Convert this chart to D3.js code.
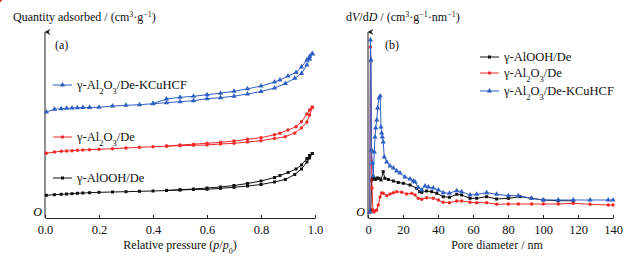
<!DOCTYPE html>
<html>
<head>
<meta charset="utf-8">
<script src="https://cdn.jsdelivr.net/npm/d3@7"></script>
<style>
  body { margin: 0; background: #fff; }
  svg text { font-family: "Liberation Serif", "Times New Roman", "DejaVu Serif", serif; }
</style>
</head>
<body>
<svg id="graf" width="633" height="260"></svg>
<script>
// isotherm (a): relative pressure points
const pAds = [0.005, 0.035, 0.06, 0.08, 0.1, 0.12, 0.14, 0.165, 0.2, 0.25, 0.3, 0.35, 0.4, 0.45, 0.5, 0.55, 0.6, 0.65, 0.7, 0.75, 0.8, 0.85, 0.89, 0.925, 0.95, 0.97, 0.98, 0.99];
const pDes = [0.99, 0.98, 0.97, 0.95, 0.93, 0.9, 0.87, 0.85, 0.8, 0.75, 0.7, 0.65, 0.6, 0.55, 0.5, 0.45, 0.4];

const kcuAds = [106, 108.7, 109.3, 109.7, 110, 110.2, 110.4, 110.6, 110.7, 112, 112.7, 113.3, 114.3, 115.3, 116.3, 117.3, 119.3, 120.3, 121.8, 124, 126.5, 130, 134.5, 139.7, 144.5, 153, 159, 164];
const kcuDes = [164.5, 161.5, 158, 151, 145.5, 142, 138, 136, 132, 129.2, 126.7, 124.8, 123.3, 121.7, 120.7, 119, 114.5];
const alAds = [64.7, 66, 66.7, 67, 67.3, 67.7, 68, 68.3, 68.7, 69.3, 70, 70.7, 71.3, 71.8, 72.3, 72.7, 73, 74, 74.7, 76, 77.3, 79.5, 81.3, 85, 90, 96, 103, 110.5];
const alDes = [111, 108, 104, 96.3, 91.3, 88, 84.7, 83.3, 80.3, 78.7, 77, 75.7, 74.7, 73.8, 73, 72];
const booAds = [22.7, 23.3, 23.7, 24, 24.3, 24.7, 25, 25.3, 25.7, 26, 26.3, 26.7, 27, 27.5, 28, 28.5, 28.7, 29.7, 30.7, 32, 33.5, 36, 38.5, 43.5, 49, 56, 60, 64.5];
const booDes = [64.5, 62.5, 59.5, 53, 49, 45.5, 42.5, 40.5, 37, 34.5, 32.5, 31, 30, 29, 28.3, 27.6];

// pore size distribution (b): [diameter nm, dV/dD]
const boohPore = [[1.0, 6], [1.6, 8], [2.1, 38], [2.6, 40], [3.1, 39.7], [3.8, 39], [4.5, 38.7], [5.3, 40], [6.3, 39.7], [7.4, 38], [8.7, 46.3], [9.6, 39.7], [11.6, 38.5], [14.5, 37], [17.3, 35.5], [20.2, 34.7], [24, 33], [27.8, 29.7], [29.5, 26.3], [30.7, 25.7], [33.5, 27], [36.4, 26.3], [39.3, 24.7], [43, 21.3], [46.5, 20.7], [50.7, 23.7], [53.5, 23], [58.3, 19.7], [62.1, 19.7], [67.8, 21.3], [73.5, 19], [80.2, 19.7], [86.9, 21.3], [93.5, 19.7], [100.2, 18], [108.7, 17.3], [117.3, 17.3]];
const alPore = [[1.0, 6], [1.4, 171], [1.6, 157], [1.9, 67], [2.3, 30], [2.8, 8], [3.3, 6], [4.0, 7], [5.0, 8], [5.9, 13], [6.9, 21], [7.8, 25], [8.7, 24.7], [10.7, 22.3], [12.6, 24], [14.5, 25.3], [16.4, 26.3], [19.3, 25.7], [22.1, 24], [25, 24.7], [26.9, 23], [28.7, 19.7], [30.7, 18.7], [33.5, 20.3], [37.3, 19.7], [40.2, 18], [43, 15.7], [46.5, 15.3], [50.7, 17], [53.5, 17], [58.3, 15.7], [62.1, 15.3], [67.8, 15.3], [73.5, 13.7], [80.2, 14], [85.9, 14], [93.5, 14], [100.2, 14], [108.7, 14], [117.3, 14.7], [126.9, 13.7], [137.3, 13], [140, 13]];
const kcuPore = [[1.0, 6], [1.4, 178], [1.7, 158], [2.0, 68], [2.5, 55], [3.0, 42], [3.6, 66], [4.0, 81], [4.4, 90], [5.0, 98], [5.5, 110], [6.3, 120], [7.0, 122], [7.4, 91], [7.8, 85], [8.2, 81], [8.7, 76], [9.3, 61], [10.7, 56], [12.6, 52], [14.5, 50], [16.4, 47], [18.3, 45], [21.1, 41], [24, 39], [25.9, 37], [26.9, 36], [28.7, 30.5], [30.7, 28], [32.6, 32], [34.5, 31], [37.3, 30], [40.2, 28], [43, 25.3], [46.5, 24.7], [50.7, 27.3], [53.5, 26.3], [58.3, 23], [62.1, 23.7], [67.8, 25.3], [73.5, 23.7], [80.2, 22.3], [85.9, 22.3], [93.5, 19.7], [100.2, 18], [108.7, 18], [117.3, 18], [126.9, 18], [137.3, 18], [140, 18]];

const pTicks = [0, 0.2, 0.4, 0.6, 0.8, 1.0];
const dTicks = [0, 20, 40, 60, 80, 100, 120, 140];

const FONT = "Liberation Serif, Times New Roman, DejaVu Serif, serif";
const boja = { booh: "#111111", al: "#f02828", kcu: "#2f5fc4" };
const simboli = { booh: d3.symbolSquare, al: d3.symbolCircle, kcu: d3.symbolTriangle };
const velicine = { booh: 9, al: 9, kcu: 12 };

const svg = d3.select("#graf").attr("font-family", FONT);

svg.append("defs").append("marker")
  .attr("id", "strelica")
  .attr("viewBox", "0 0 10 10")
  .attr("refX", 5).attr("refY", 1)
  .attr("markerWidth", 6).attr("markerHeight", 8)
  .attr("markerUnits", "userSpaceOnUse")
  .attr("orient", "auto-start-reverse")
  .append("path").attr("d", "M0,10 L5,0 L10,10 L5,7 Z").attr("fill", "#222");

const yScale = d3.scaleLinear().domain([0, 186]).range([218, 32]);
const xA = d3.scaleLinear().domain([0, 1]).range([45, 315]);
const xB = d3.scaleLinear().domain([0, 140]).range([368, 613]);

// axes
const crtajOs = (x, ticks, fmt) => {
  const g = svg.append("g")
    .attr("transform", `translate(0, ${yScale(0)})`)
    .call(d3.axisBottom(x).tickValues(ticks).tickFormat(fmt).tickSizeInner(-3).tickSizeOuter(0).tickPadding(7));
  g.attr("font-family", FONT);
  g.select(".domain").attr("stroke", "#222");
  g.selectAll(".tick line").attr("stroke", "#222");
  g.selectAll(".tick text").attr("font-family", FONT).attr("font-size", 12.5).attr("fill", "#111");
  svg.append("line")
    .attr("x1", x(0)).attr("x2", x(0))
    .attr("y1", yScale(0)).attr("y2", yScale(186))
    .attr("stroke", "#222").attr("stroke-width", 1)
    .attr("marker-end", "url(#strelica)");
  svg.append("text")
    .attr("x", x(0) - 3).attr("y", yScale(0) - 2)
    .attr("text-anchor", "end").attr("font-style", "italic").attr("font-size", 12)
    .text("O");
};
crtajOs(xA, pTicks, d3.format(".1f"));
crtajOs(xB, dTicks, d3.format("d"));

const crtajSeriju = (x, tocke, kljuc) => {
  const line = d3.line().x(d => x(d[0])).y(d => yScale(d[1]));
  svg.append("path")
    .datum(tocke)
    .attr("fill", "none")
    .attr("stroke", boja[kljuc])
    .attr("stroke-width", 1)
    .attr("d", line);
  svg.append("g").selectAll("path")
    .data(tocke)
    .enter()
    .append("path")
    .attr("transform", d => `translate(${x(d[0])}, ${yScale(d[1])})`)
    .attr("d", d3.symbol().type(simboli[kljuc]).size(velicine[kljuc]))
    .attr("fill", boja[kljuc]);
};

const spoji = (p, v) => p.map((pp, i) => [pp, v[i]]);

crtajSeriju(xA, spoji(pAds, booAds), "booh");
crtajSeriju(xA, spoji(pDes, booDes), "booh");
crtajSeriju(xA, spoji(pAds, alAds), "al");
crtajSeriju(xA, spoji(pDes, alDes), "al");
crtajSeriju(xA, spoji(pAds, kcuAds), "kcu");
crtajSeriju(xA, spoji(pDes, kcuDes), "kcu");

crtajSeriju(xB, boohPore, "booh");
crtajSeriju(xB, alPore, "al");
crtajSeriju(xB, kcuPore, "kcu");

// labels
const naslov = (x, y, dijelovi, anchor) => {
  const t = svg.append("text").attr("x", x).attr("y", y).attr("font-size", 12).attr("fill", "#111")
    .attr("font-family", FONT)
    .attr("text-anchor", anchor || "start");
  dijelovi.forEach(d => {
    const s = t.append("tspan").text(d.t);
    if (d.i) s.attr("font-style", "italic");
    if (d.sup) s.attr("baseline-shift", "super").attr("font-size", 8);
    if (d.sub) s.attr("baseline-shift", "sub").attr("font-size", 8);
  });
};

naslov(13, 21, [{ t: "Quantity adsorbed / (cm" }, { t: "3", sup: 1 }, { t: "\u00b7g" }, { t: "\u22121", sup: 1 }, { t: ")" }]);
naslov(346, 21, [{ t: "d" }, { t: "V", i: 1 }, { t: "/d" }, { t: "D", i: 1 }, { t: " / (cm" }, { t: "3", sup: 1 }, { t: "\u00b7g" }, { t: "\u22121", sup: 1 }, { t: "\u00b7nm" }, { t: "\u22121", sup: 1 }, { t: ")" }]);
naslov(180, 249, [{ t: "Relative pressure (" }, { t: "p", i: 1 }, { t: "/" }, { t: "p", i: 1 }, { t: "0", sub: 1 }, { t: ")" }], "middle");
naslov(497, 249, [{ t: "Pore diameter / nm" }], "middle");
naslov(55, 49, [{ t: "(a)" }]);
naslov(385, 49, [{ t: "(b)" }]);

// legends
const legenda = (x, y, kljuc, dijelovi) => {
  svg.append("line").attr("x1", x).attr("x2", x + 19).attr("y1", y).attr("y2", y)
    .attr("stroke", boja[kljuc]).attr("stroke-width", 1);
  svg.append("path").attr("transform", `translate(${x + 9.5}, ${y})`)
    .attr("d", d3.symbol().type(simboli[kljuc]).size(velicine[kljuc]))
    .attr("fill", boja[kljuc]);
  const t = svg.append("text").attr("x", x + 24).attr("y", y + 4).attr("font-size", 12.5).attr("fill", "#111")
    .attr("font-family", FONT);
  dijelovi.forEach(d => {
    const s = t.append("tspan").text(d.t);
    if (d.sub) s.attr("baseline-shift", "sub").attr("font-size", 8.5);
  });
};
const nazivBooh = [{ t: "\u03b3-AlOOH/De" }];
const nazivAl = [{ t: "\u03b3-Al" }, { t: "2", sub: 1 }, { t: "O" }, { t: "3", sub: 1 }, { t: "/De" }];
const nazivKcu = [{ t: "\u03b3-Al" }, { t: "2", sub: 1 }, { t: "O" }, { t: "3", sub: 1 }, { t: "/De-KCuHCF" }];

legenda(53, 85, "kcu", nazivKcu);
legenda(53, 137, "al", nazivAl);
legenda(53, 178, "booh", nazivBooh);

legenda(480, 57, "booh", nazivBooh);
legenda(480, 73, "al", nazivAl);
legenda(480, 91, "kcu", nazivKcu);
</script>
</body>
</html>
